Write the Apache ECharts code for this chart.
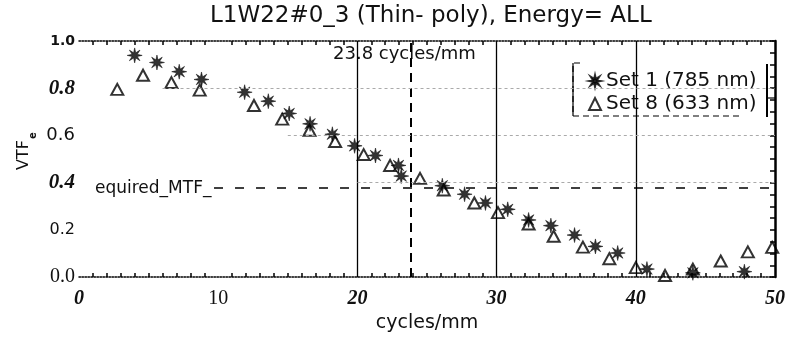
<!DOCTYPE html>
<html>
<head>
<meta charset="utf-8">
<script src="https://cdn.jsdelivr.net/npm/echarts@6/dist/echarts.min.js"></script>
<style>html,body{margin:0;padding:0;background:#fff}#c{width:788px;height:338px}</style>
</head>
<body>
<div id="c"></div>
<script>
// ---- data ----
const set1X = [4.0, 5.6, 7.2, 8.8, 11.9, 13.6, 15.1, 16.6, 18.2, 19.8, 21.3, 22.95, 23.15, 26.1, 27.7, 29.2, 30.8, 32.3, 33.9, 35.6, 37.1, 38.7, 40.8, 44.1, 47.8];
const set1Y = [0.939, 0.909, 0.870, 0.837, 0.783, 0.745, 0.693, 0.649, 0.605, 0.556, 0.515, 0.473, 0.428, 0.387, 0.351, 0.314, 0.287, 0.242, 0.218, 0.178, 0.130, 0.102, 0.034, 0.018, 0.023];
const set8X = [2.75, 4.6, 6.64, 8.67, 12.57, 14.6, 16.56, 18.4, 20.45, 22.35, 24.5, 26.2, 28.4, 30.1, 32.3, 34.1, 36.2, 38.1, 40.0, 42.1, 44.1, 46.1, 48.05, 49.8];
const set8Y = [0.795, 0.855, 0.824, 0.792, 0.727, 0.669, 0.622, 0.574, 0.519, 0.473, 0.418, 0.369, 0.314, 0.273, 0.225, 0.173, 0.127, 0.078, 0.040, 0.007, 0.034, 0.068, 0.107, 0.126];
const seriesNames = ['Set 1 (785 nm)', 'Set 8 (633 nm)'];
const solidLinesX = [20, 30, 40];
const cutoffX = 23.8;
const requiredMTF = 0.38;
const requiredStartX = 9.7;
const xTicks = [0, 10, 20, 30, 40, 50];
const yTicks = [0, 0.2, 0.4, 0.6, 0.8, 1.0];
const titleText = 'L1W22#0_3 (Thin- poly), Energy= ALL';
const xName = 'cycles/mm';
const yName = 'VTF';
const cutoffLabel = '23.8 cycles/mm';
const reqLabel = 'equired_MTF_';

const starPath = 'path://M10,0L11.45,6.49L17.07,2.93L13.51,8.55L20,10L13.51,11.45L17.07,17.07L11.45,13.51L10,20L8.55,13.51L2.93,17.07L6.49,11.45L0,10L6.49,8.55L2.93,2.93L8.55,6.49Z';

const chart = echarts.init(document.getElementById('c'), null, {renderer: 'canvas'});
const pair = (xs, ys) => xs.map((x, i) => [x, ys[i]]);

const yStyle = {0: 'se', 0.2: 'sa', 0.4: 'bi', 0.6: 'sb', 0.8: 'bi', 1: 'sm'};
const xStyle = {0: 'it', 10: 'up', 20: 'it', 30: 'it', 40: 'it', 50: 'it'};

const option = {
  animation: false,
  backgroundColor: '#fff',
  grid: {left: 79, right: 12, top: 41, bottom: 53, containLabel: false},
  title: {
    text: titleText, left: 205, top: 0,
    textStyle: {fontFamily: 'DejaVu Sans', fontSize: 23, fontWeight: 'normal', color: '#111'}
  },
  legend: {
    orient: 'vertical', left: 583, top: 66, itemGap: 3, itemWidth: 12, itemHeight: 12,
    textStyle: {fontFamily: 'DejaVu Sans', fontSize: 20, color: '#111'},
    data: [
      {name: seriesNames[0], icon: starPath, itemStyle: {color: '#000'}},
      {name: seriesNames[1], icon: 'triangle', itemStyle: {color: 'rgba(0,0,0,0)', borderColor: '#000', borderWidth: 2}}
    ]
  },
  xAxis: [{
    type: 'value', min: 0, max: 50, interval: 10, position: 'bottom',
    name: xName, nameLocation: 'middle', nameGap: 33,
    nameTextStyle: {fontFamily: 'DejaVu Sans', fontSize: 19, color: '#111'},
    axisLine: {onZero: false, lineStyle: {color: '#000', type: 'dotted', width: 1.5}},
    axisTick: {show: false, inside: true},
    minorTick: {show: true, splitNumber: 10, length: 4, lineStyle: {color: '#000', width: 1.5}},
    splitLine: {show: false},
    axisLabel: {
      margin: 12,
      formatter: v => '{' + xStyle[v] + '|' + v + '}',
      rich: {
        it: {fontFamily: 'Liberation Serif', fontStyle: 'italic', fontWeight: 'bold', fontSize: 20, color: '#111'},
        up: {fontFamily: 'Liberation Serif', fontSize: 20, color: '#111'}
      }
    }
  }, {
    type: 'value', min: 0, max: 50, interval: 10, position: 'top',
    axisLine: {onZero: false, lineStyle: {color: '#000', type: 'dotted', width: 1.5}},
    axisTick: {show: false, inside: true},
    minorTick: {show: true, splitNumber: 10, length: 4, lineStyle: {color: '#000', width: 1.5}},
    splitLine: {show: false}, axisLabel: {show: false}
  }],
  yAxis: [{
    type: 'value', min: 0, max: 1.0, interval: 0.2, position: 'left',
    axisLine: {show: false, onZero: false}, axisTick: {show: false}, splitLine: {show: false},
    axisLabel: {
      margin: 4,
      formatter: v => '{' + yStyle[Math.round(v * 10) / 10] + '|' + v.toFixed(1) + '}',
      rich: {
        se: {fontFamily: 'Liberation Serif', fontSize: 20, color: '#111'},
        sa: {fontFamily: 'DejaVu Sans', fontSize: 16, color: '#111'},
        sb: {fontFamily: 'DejaVu Sans', fontSize: 18, color: '#111'},
        sm: {fontFamily: 'DejaVu Sans', fontSize: 14, fontWeight: 'bold', color: '#111'},
        bi: {fontFamily: 'Liberation Serif', fontStyle: 'italic', fontWeight: 'bold', fontSize: 21, color: '#111'}
      }
    }
  }, {
    type: 'value', min: 0, max: 1.0, interval: 0.2, position: 'right',
    axisLine: {show: true, onZero: false, lineStyle: {color: '#000', width: 2.5}},
    axisTick: {show: true, inside: true, length: 5, lineStyle: {color: '#000', width: 1.5}},
    minorTick: {show: true, splitNumber: 4, length: 5, lineStyle: {color: '#000', width: 1.5}},
    splitLine: {show: false}, axisLabel: {show: false}
  }],
  graphic: [
    {type: 'text', x: 16, y: 170, rotation: Math.PI / 2, style: {text: yName, font: '16px "DejaVu Sans"', fill: '#111'}},
    {type: 'text', x: 28, y: 139, rotation: Math.PI / 2, style: {text: 'e', font: 'bold 10px "DejaVu Sans"', fill: '#111'}},
    {type: 'text', left: 333, top: 45, style: {text: cutoffLabel, font: '18px "DejaVu Sans"', fill: '#111'}},
    {type: 'text', left: 95, top: 180, style: {text: reqLabel, font: '17px "DejaVu Sans"', fill: '#111'}},
    {type: 'polyline', shape: {points: [[580, 63], [573, 63], [573, 116], [740, 116]]}, style: {stroke: '#000', lineWidth: 1.2, lineDash: [6, 4], fill: null}},
    {type: 'polyline', shape: {points: [[573, 63], [573, 116]]}, style: {stroke: '#000', lineWidth: 1.2, fill: null}},
    {type: 'polyline', shape: {points: [[767, 64], [767, 117]]}, style: {stroke: '#000', lineWidth: 2, fill: null}},
    {type: 'polyline', shape: {points: [[767, 98], [776, 98]]}, style: {stroke: '#000', lineWidth: 1.2, fill: null}}
  ],
  series: [{
    name: seriesNames[0], type: 'scatter', xAxisIndex: 0, yAxisIndex: 0,
    symbol: starPath, symbolSize: 15,
    itemStyle: {color: '#000', borderColor: '#000', borderWidth: 0.6},
    data: pair(set1X, set1Y),
    markLine: {
      silent: true, symbol: 'none', label: {show: false},
      data: [
        {xAxis: solidLinesX[0], lineStyle: {color: '#000', type: 'solid', width: 1.3}},
        {xAxis: solidLinesX[1], lineStyle: {color: '#000', type: 'solid', width: 1.3}},
        {xAxis: solidLinesX[2], lineStyle: {color: '#000', type: 'solid', width: 1.3}},
        {xAxis: cutoffX, lineStyle: {color: '#000', type: [9, 6], width: 2}},
        [{coord: [requiredStartX, requiredMTF], lineStyle: {color: '#000', type: [9, 12], width: 1.5}}, {coord: [50, requiredMTF]}],
        [{coord: [6, 0.8], lineStyle: {color: '#aaa', type: [3, 3], width: 1}}, {coord: [50, 0.8]}],
        [{coord: [15, 0.6], lineStyle: {color: '#aaa', type: [3, 3], width: 1}}, {coord: [50, 0.6]}],
        [{coord: [20, 0.4], lineStyle: {color: '#aaa', type: [3, 3], width: 1}}, {coord: [50, 0.4]}]
      ]
    }
  }, {
    name: seriesNames[1], type: 'scatter', xAxisIndex: 0, yAxisIndex: 0,
    symbol: 'triangle', symbolSize: [12, 11],
    itemStyle: {color: 'rgba(0,0,0,0)', borderColor: '#000', borderWidth: 2},
    data: pair(set8X, set8Y)
  }]
};
chart.setOption(option);
</script>
</body>
</html>
